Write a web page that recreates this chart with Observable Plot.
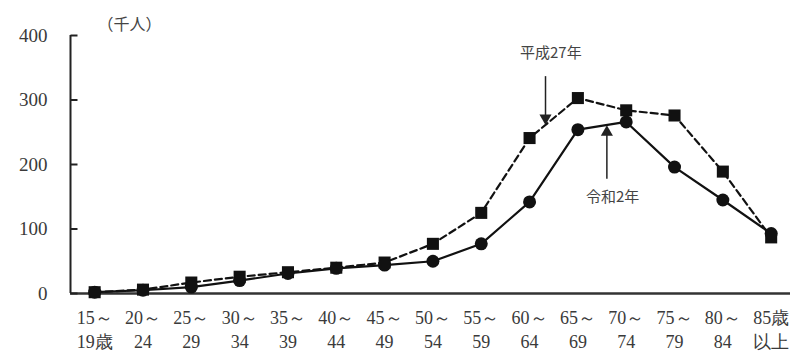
<!DOCTYPE html>
<html><head><meta charset="utf-8">
<script src="https://cdn.jsdelivr.net/npm/d3@7"></script>
<script src="https://cdn.jsdelivr.net/npm/@observablehq/plot@0.6"></script>
<style>body{margin:0;background:#fff;} svg{display:block;}</style>
</head><body><div id="chart"></div>
<script>
const categories = ["15～\n19歳","20～\n24","25～\n29","30～\n34","35～\n39","40～\n44","45～\n49","50～\n54","55～\n59","60～\n64","65～\n69","70～\n74","75～\n79","80～\n84","85歳\n以上"];
const reiwa2 = [2,5,10,20,31,39,44,50,77,142,254,266,196,145,93];
const heisei27 = [2,6,17,26,33,40,48,77,125,241,303,284,276,189,87];
const yTicks = [0,100,200,300,400];
const seriesNames = ["令和2年","平成27年"];
// annotations: label position & arrow (index-based x, value y)
const annoLabels = [{x:9.44,y:372,text:"平成27年"},{x:10.72,y:150,text:"令和2年"}];
const annoArrows = [{x:9.33,y1:337,y2:272,dir:"down"},{x:10.6,y1:178,y2:250,dir:"up"}];

const rows = categories.map((c,i)=>({i, r:reiwa2[i], h:heisei27[i]}));
const cjk = "Noto Sans CJK JP, sans-serif";
const serif = "Liberation Serif";
const tickSymbol = {draw(context) { context.moveTo(0, 0); context.lineTo(7, 0); }};

const chart = Plot.plot({
  width: 800, height: 357,
  marginTop: 35, marginBottom: 64, marginLeft: 70, marginRight: 10,
  style: {fontSize: "16px", color: "#333", background: "#fff"},
  x: {type: "linear", domain: [-0.5, 14.4], axis: null},
  y: {domain: [0, 400], axis: null},
  marks: [
    Plot.axisY({ticks: yTicks, tickSize: 0, tickPadding: 23, fontSize: 19, fontFamily: serif, fill: "#3a3a3a"}),
    Plot.axisX({ticks: d3.range(categories.length), tickFormat: i => categories[i], tickSize: 0, tickPadding: 14, fontSize: 18, fontFamily: serif, lineHeight: 1.33, fill: "#3a3a3a"}),
    Plot.ruleY([0], {stroke: "#333", strokeWidth: 2.5}),
    Plot.ruleX([-0.5], {stroke: "#222", strokeWidth: 2}),
    Plot.dot(yTicks, {x: () => -0.5, y: d => d, symbol: tickSymbol, fill: "none", stroke: "#222", strokeWidth: 2}),
    Plot.line(rows, {x: "i", y: "h", stroke: "#111", strokeWidth: 2.2, strokeDasharray: "7,4"}),
    Plot.line(rows, {x: "i", y: "r", stroke: "#111", strokeWidth: 2.2}),
    Plot.dot(rows, {x: "i", y: "h", symbol: "square", r: 6.8, fill: "#111", stroke: "none"}),
    Plot.dot(rows, {x: "i", y: "r", symbol: "circle", r: 6.5, fill: "#111", stroke: "none"}),
    Plot.link(annoArrows, {x1: "x", x2: "x", y1: "y1", y2: "y2", stroke: "#222", strokeWidth: 1.5}),
    Plot.dot(annoArrows, {x: "x", y: "y2", symbol: "triangle", r: 4.5, fill: "#222", stroke: "none", rotate: d => d.dir === "down" ? 180 : 0}),
    Plot.text(annoLabels, {x: "x", y: "y", text: "text", fontFamily: cjk, fontSize: 15, fill: "#444"}),
    Plot.text(["（千人）"], {frameAnchor: "top-left", dx: 27, dy: -17, fontFamily: cjk, fontSize: 16, fill: "#444"})
  ]
});
document.getElementById("chart").appendChild(chart);
</script></body></html>
